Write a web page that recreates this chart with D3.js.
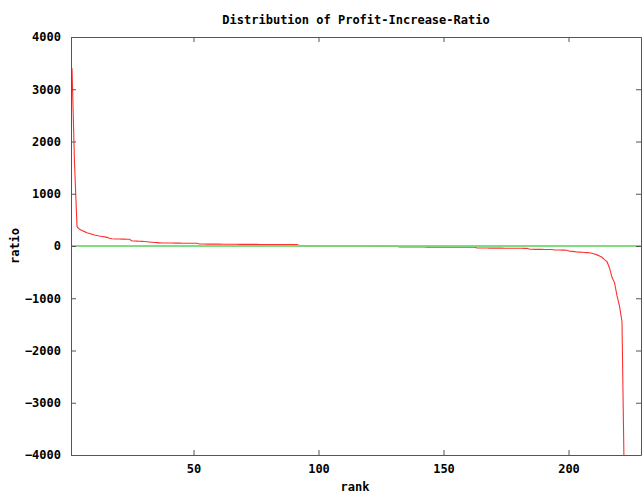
<!DOCTYPE html>
<html>
<head>
<meta charset="utf-8">
<script src="https://cdn.jsdelivr.net/npm/d3@7"></script>
<style>
    body { margin: 0; background: #fff; }
    text { font-family: "DejaVu Sans Mono", monospace; font-weight: bold; font-size: 12px; fill: #000; }
</style>
</head>
<body>
<div id="chart"></div>
<script>
// chart data
var title = "Distribution of Profit-Increase-Ratio";
var xLabel = "rank";
var yLabel = "ratio";
var xDomain = [1, 229];
var yDomain = [-4000, 4000];
var xTicks = [50, 100, 150, 200];
var yTicks = [-4000, -3000, -2000, -1000, 0, 1000, 2000, 3000, 4000];
var baseline = 0;

// ratio sorted by rank (rank = index + 1)
var ratio = [
    3400, 1600, 370, 320, 295, 275, 255, 240, 225, 210,
    200, 190, 182, 175, 165, 150, 138,
    135, 134, 133, 132, 131, 130, 128,
    97, 95, 93, 90, 88, 85,
    80, 76, 72, 68, 64, 60,
    57, 57, 56, 56, 56, 55, 55, 55, 54, 54, 54, 53, 53, 52, 52,
    38, 37, 37, 36, 36, 36, 35, 35, 35, 34, 34, 34, 33, 33, 33, 33, 32, 32, 32, 32,
    31, 31, 31, 31, 30, 30, 30, 30, 30, 29, 29, 29, 29, 29, 28, 28, 28, 28, 28, 27,
    4, 4, 3, 3, 3, 2, 2, 2, 1, 1, 1, 1, 0, 0, 0, 0, 0, 0, 0, 0,
    0, 0, 0, 0, -1, -1, -1, -1, -2, -2, -2, -2, -3, -3, -3, -4, -4, -4, -5, -5,
    -18, -18, -19, -19, -19, -19, -20, -20, -20, -20, -20, -21, -21, -21, -21, -21,
    -22, -22, -22, -22, -22, -23, -23, -23, -23, -23, -24, -24, -24, -24, -25,
    -38, -38, -39, -39, -39, -40, -40, -40, -41, -41, -41, -42, -42, -42, -43, -43,
    -43, -44, -44, -45, -45,
    -63, -63, -64, -64, -65, -65, -66, -66, -67, -68,
    -77, -77, -78, -78, -79, -80,
    -100, -102, -108,
    -115, -118, -120, -124, -127,
    -130, -140, -155, -170, -190, -215, -260, -300, -420, -600, -700, -950,
    -1150, -1450, -4800
];

var w = 642;
var h = 493;
var margin = { left: 71, right: 1, top: 37, bottom: 38 };

var svg = d3.select("#chart")
    .append("svg")
    .attr("width", w)
    .attr("height", h);

svg.append("rect")
    .attr("width", w)
    .attr("height", h)
    .attr("fill", "#fff");

var x = d3.scaleLinear()
    .domain(xDomain)
    .range([margin.left, w - margin.right]);

var y = d3.scaleLinear()
    .domain(yDomain)
    .range([h - margin.bottom, margin.top]);

// clip to the plot box
svg.append("clipPath")
    .attr("id", "plot-clip")
    .append("rect")
    .attr("x", margin.left)
    .attr("y", margin.top)
    .attr("width", w - margin.right - margin.left)
    .attr("height", h - margin.bottom - margin.top);

// ratio curve (red), drawn first so the zero line sits over it
var line = d3.line()
    .x(function (d, i) { return x(i + 1) + 1; })
    .y(function (d) { return y(d); });

svg.append("path")
    .datum(ratio)
    .attr("clip-path", "url(#plot-clip)")
    .attr("d", line)
    .attr("fill", "none")
    .attr("stroke", "#ff1a1a")
    .attr("stroke-opacity", 0.9)
    .attr("stroke-width", 1.1);

// zero line (green)
svg.append("line")
    .attr("clip-path", "url(#plot-clip)")
    .attr("x1", x.range()[0])
    .attr("x2", x.range()[1])
    .attr("y1", y(baseline))
    .attr("y2", y(baseline))
    .attr("stroke", "#72d872")
    .attr("stroke-opacity", 0.9)
    .attr("stroke-width", 2);

// Axes, ticks inward
var tickLen = 5;
var axisColor = "#555";
var fmt = d3.format("d");

var bottomAxis = svg.append("g")
    .attr("transform", "translate(0," + y.range()[0] + ")")
    .call(d3.axisBottom(x).tickValues(xTicks).tickFormat(fmt).tickSizeInner(-tickLen).tickSizeOuter(0).tickPadding(9));

var topAxis = svg.append("g")
    .attr("transform", "translate(0," + y.range()[1] + ")")
    .call(d3.axisTop(x).tickValues(xTicks).tickSizeInner(-tickLen).tickSizeOuter(0).tickFormat(""));

var leftAxis = svg.append("g")
    .attr("transform", "translate(" + x.range()[0] + ",0)")
    .call(d3.axisLeft(y).tickValues(yTicks).tickFormat(fmt).tickSizeInner(-tickLen).tickSizeOuter(0).tickPadding(10));

var rightAxis = svg.append("g")
    .attr("transform", "translate(" + x.range()[1] + ",0)")
    .call(d3.axisRight(y).tickValues(yTicks).tickSizeInner(-tickLen).tickSizeOuter(0).tickFormat(""));

[bottomAxis, topAxis, leftAxis, rightAxis].forEach(function (g) {
    g.attr("font-family", null).attr("font-size", null);
    g.select(".domain").attr("stroke", axisColor);
    g.selectAll(".tick line").attr("stroke", axisColor);
    g.selectAll(".tick text").attr("fill", "#000");
});

// Title and labels
svg.append("text")
    .attr("x", (x.range()[0] + x.range()[1]) / 2)
    .attr("y", 24)
    .attr("text-anchor", "middle")
    .text(title);

svg.append("text")
    .attr("x", (x.range()[0] + x.range()[1]) / 2 - 1)
    .attr("y", 491)
    .attr("text-anchor", "middle")
    .text(xLabel);

svg.append("text")
    .attr("transform", "translate(19," + y(0) + ") rotate(-90)")
    .attr("text-anchor", "middle")
    .text(yLabel);
</script>
</body>
</html>
